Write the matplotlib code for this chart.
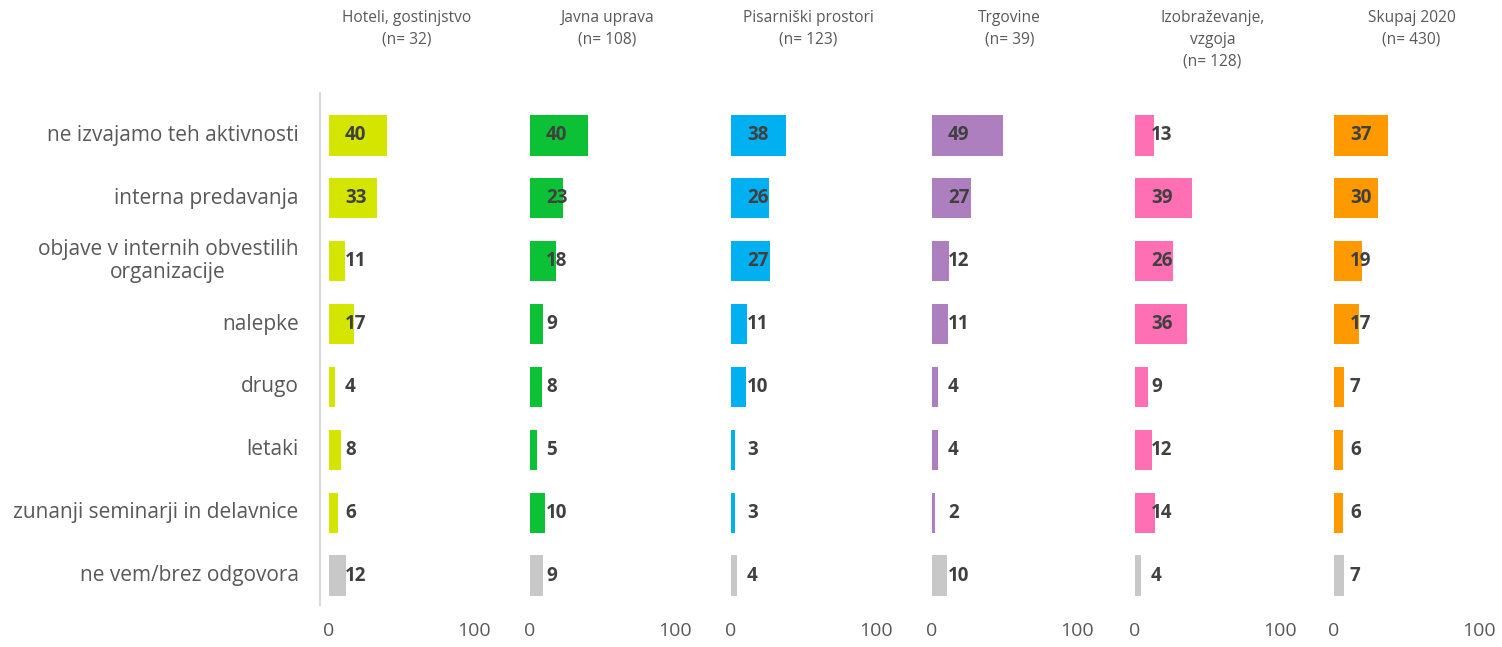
import matplotlib
matplotlib.use("Agg")
import matplotlib.pyplot as plt
from matplotlib.lines import Line2D

plt.rcParams['font.family'] = ['Open Sans', 'DejaVu Sans']

categories = ["ne izvajamo teh aktivnosti", "interna predavanja",
              "objave v internih obvestilih\norganizacije", "nalepke", "drugo",
              "letaki", "zunanji seminarji in delavnice", "ne vem/brez odgovora"]
groups = ["Hoteli, gostinjstvo\n(n= 32)", "Javna uprava\n(n= 108)",
          "Pisarniški prostori\n(n= 123)", "Trgovine\n(n= 39)",
          "Izobraževanje,\nvzgoja\n(n= 128)", "Skupaj 2020\n(n= 430)"]
hoteli = [40, 33, 11, 17, 4, 8, 6, 12]
javna = [40, 23, 18, 9, 8, 5, 10, 9]
pisarniski = [38, 26, 27, 11, 10, 3, 3, 4]
trgovine = [49, 27, 12, 11, 4, 4, 2, 10]
izobrazevanje = [13, 39, 26, 36, 9, 12, 14, 4]
skupaj = [37, 30, 19, 17, 7, 6, 6, 7]
series = [hoteli, javna, pisarniski, trgovine, izobrazevanje, skupaj]
colors = ["#D4E600", "#0DC136", "#00B0F0", "#AD7FBF", "#FF6FB4", "#FF9900"]
last_color = "#C8C8C8"
xticks = [0, 100]

W, H = 1502, 647
fig = plt.figure(figsize=(W / 100, H / 100), dpi=100)

zeros = [329, 530, 731, 932, 1135, 1334]
pw = 145
top, bottom = 104, 607
txt = "#595959"
n = len(categories)
ypos = list(range(n))

for i, (vals, col) in enumerate(zip(series, colors)):
    ax = fig.add_axes([zeros[i] / W, 1 - bottom / H, pw / W, (bottom - top) / H])
    cols = [col] * (n - 1) + [last_color]
    ax.barh(ypos, vals, height=0.64, color=cols)
    for y, v in zip(ypos, vals):
        ax.text(11, y, str(v), ha='left', va='center', fontsize=13.5,
                fontweight='bold', color="#404040")
    ax.set_xlim(0, 100)
    ax.set_ylim(n - 0.5, -0.5)
    ax.set_xticks(xticks)
    ax.set_xticklabels([str(t) for t in xticks], fontsize=14, color=txt)
    ax.tick_params(axis='x', length=0, pad=11)
    ax.set_yticks([])
    for s in ax.spines.values():
        s.set_visible(False)
    fig.text((zeros[i] + pw / 2 + 5) / W, 1 - 10 / H, groups[i], ha='center',
             va='top', fontsize=11.2, color=txt, linespacing=1.5)
    if i == 0:
        for y, c in zip(ypos, categories):
            ax.text(-0.21, y, c, transform=ax.get_yaxis_transform(), ha='right',
                    va='center', fontsize=15, color=txt, multialignment='center',
                    linespacing=1.15)

fig.add_artist(Line2D([320 / W, 320 / W], [1 - 93 / H, 1 - 605 / H],
                      color="#D9D9D9", lw=1.5))

fig.savefig("out.png", dpi=100, facecolor="white")
